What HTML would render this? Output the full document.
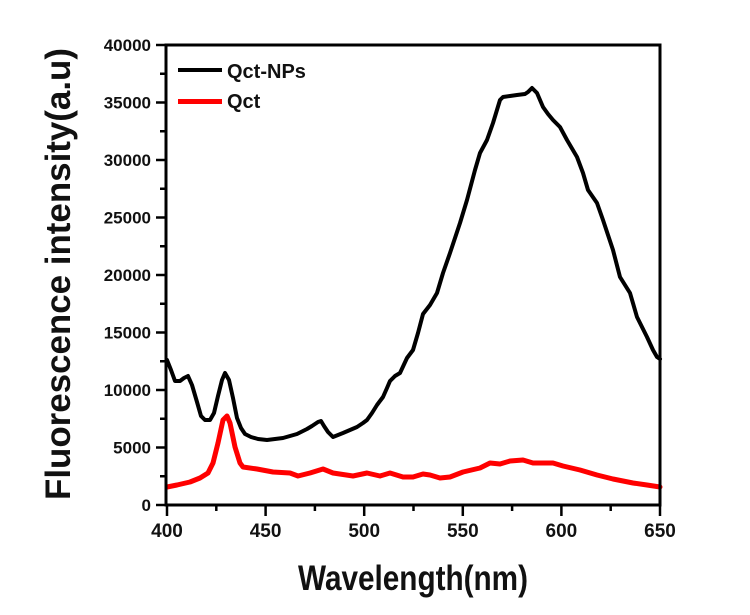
<!DOCTYPE html>
<html>
<head>
<meta charset="utf-8">
<style>
html,body{margin:0;padding:0;background:#fff;}
svg{display:block;}
text{font-family:"Liberation Sans",Arial,sans-serif;fill:#111;}
</style>
</head>
<body>
<svg width="750" height="615" viewBox="0 0 750 615" xmlns="http://www.w3.org/2000/svg">
<rect width="750" height="615" fill="#fff"/>

<!-- curves -->
<polyline fill="none" stroke="#ff0000" stroke-width="5" stroke-linejoin="round" stroke-linecap="round"
points="167,487 177,485 190,482 200,478 208,473 213,463 218,443 223,420 227,416 230,423 235,447 240,463 243,467 257,469 273,472 290,473 298,476 310,473 323,469 333,473 353,476 367,473 380,476 390,473 403,477 413,477 423,474 430,475 440,478 450,477 463,472 480,468 490,463 500,464 510,461 523,460 533,463 553,463 563,466 580,470 597,475 613,479 633,483 647,485 660,487"/>
<polyline fill="none" stroke="#000" stroke-width="4" stroke-linejoin="round" stroke-linecap="round"
points="167,360 171,370 175,381 180,381 184,378 188,376 192,385 197,402 201,416 205,420 210,420 214,413 218,396 222,380 225,373 229,380 233,398 237,418 241,428 245,434 251,437 258,439 267,440 275,439 283,438 290,436 297,434 303,431 307,429 312,426 318,422 321,421 324,426 328,432 333,437 338,435 343,433 350,430 357,427 363,423 367,420 372,413 377,405 383,397 387,388 390,381 395,376 400,373 407,358 413,350 418,333 423,314 430,305 437,293 443,273 450,253 455,238 460,223 467,200 475,170 480,153 487,140 493,123 500,100 503,97 510,96 517,95 525,94 528,92 532,88 537,93 543,107 548,114 553,120 560,127 567,140 577,157 583,173 588,190 597,203 603,220 608,235 613,250 620,277 630,293 637,317 647,337 653,350 657,357 660,359"/>

<!-- frame -->
<rect x="166" y="45" width="494" height="460" fill="none" stroke="#000" stroke-width="3"/>

<!-- y ticks -->
<g stroke="#000" stroke-width="2.5">
<line x1="156" y1="505" x2="166" y2="505"/>
<line x1="160" y1="476.25" x2="166" y2="476.25"/>
<line x1="156" y1="447.5" x2="166" y2="447.5"/>
<line x1="160" y1="418.75" x2="166" y2="418.75"/>
<line x1="156" y1="390" x2="166" y2="390"/>
<line x1="160" y1="361.25" x2="166" y2="361.25"/>
<line x1="156" y1="332.5" x2="166" y2="332.5"/>
<line x1="160" y1="303.75" x2="166" y2="303.75"/>
<line x1="156" y1="275" x2="166" y2="275"/>
<line x1="160" y1="246.25" x2="166" y2="246.25"/>
<line x1="156" y1="217.5" x2="166" y2="217.5"/>
<line x1="160" y1="188.75" x2="166" y2="188.75"/>
<line x1="156" y1="160" x2="166" y2="160"/>
<line x1="160" y1="131.25" x2="166" y2="131.25"/>
<line x1="156" y1="102.5" x2="166" y2="102.5"/>
<line x1="160" y1="73.75" x2="166" y2="73.75"/>
<line x1="156" y1="45" x2="166" y2="45"/>
</g>
<!-- x ticks -->
<g stroke="#000" stroke-width="2.5">
<line x1="167" y1="505" x2="167" y2="516"/>
<line x1="216.3" y1="505" x2="216.3" y2="511"/>
<line x1="265.6" y1="505" x2="265.6" y2="516"/>
<line x1="314.9" y1="505" x2="314.9" y2="511"/>
<line x1="364.2" y1="505" x2="364.2" y2="516"/>
<line x1="413.5" y1="505" x2="413.5" y2="511"/>
<line x1="462.8" y1="505" x2="462.8" y2="516"/>
<line x1="512.1" y1="505" x2="512.1" y2="511"/>
<line x1="561.4" y1="505" x2="561.4" y2="516"/>
<line x1="610.7" y1="505" x2="610.7" y2="511"/>
<line x1="660" y1="505" x2="660" y2="516"/>
</g>

<!-- y tick labels -->
<g font-size="17" font-weight="bold" text-anchor="end">
<text x="151" y="511">0</text>
<text x="151" y="453.5">5000</text>
<text x="151" y="396">10000</text>
<text x="151" y="338.5">15000</text>
<text x="151" y="281">20000</text>
<text x="151" y="223.5">25000</text>
<text x="151" y="166">30000</text>
<text x="151" y="108.5">35000</text>
<text x="151" y="51">40000</text>
</g>
<!-- x tick labels -->
<g font-size="19" font-weight="bold" text-anchor="middle">
<text x="167" y="537">400</text>
<text x="265.6" y="537">450</text>
<text x="364.2" y="537">500</text>
<text x="462.8" y="537">550</text>
<text x="561.4" y="537">600</text>
<text x="660" y="537">650</text>
</g>

<!-- axis titles -->
<text x="298" y="590" font-size="35" font-weight="bold" textLength="230" lengthAdjust="spacingAndGlyphs">Wavelength(nm)</text>
<text transform="translate(70,500) rotate(-90)" x="0" y="0" font-size="35" font-weight="bold" textLength="452" lengthAdjust="spacingAndGlyphs">Fluorescence intensity(a.u)</text>

<!-- legend -->
<line x1="178" y1="70" x2="222" y2="70" stroke="#000" stroke-width="4"/>
<text x="227" y="78" font-size="20" font-weight="bold">Qct-NPs</text>
<line x1="178" y1="101.5" x2="222" y2="101.5" stroke="#ff0000" stroke-width="5"/>
<text x="227" y="108" font-size="20" font-weight="bold">Qct</text>
</svg>
</body>
</html>
